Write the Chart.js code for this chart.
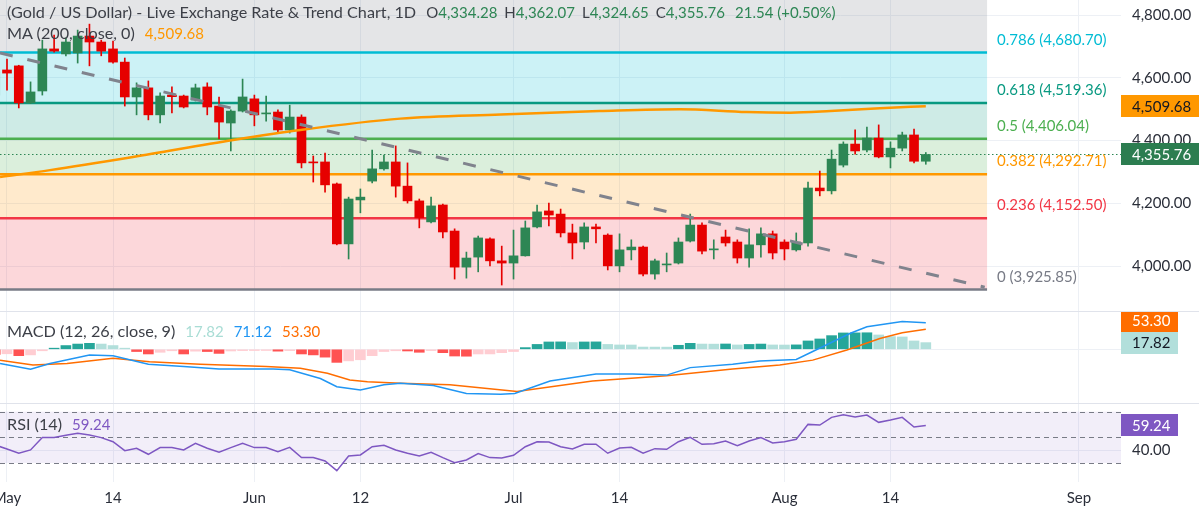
<!DOCTYPE html>
<html><head><meta charset="utf-8">
<script src="https://cdn.jsdelivr.net/npm/chart.js@4.4.1/dist/chart.umd.min.js"></script>
<style>
html,body{margin:0;padding:0;background:#fff;overflow:hidden;}
#wrap{position:relative;width:1199px;height:514px;font-family:Lato,"Open Sans",sans-serif;}
canvas{position:absolute;left:0;}
.sep{position:absolute;left:0;width:1199px;height:1px;background:#e0e3eb;}
.leg{position:absolute;left:7px;font-size:16.2px;color:#3c3f47;white-space:pre;line-height:18px;}
.leg .v{font-size:15px;}
.gap{display:inline-block;width:10px;}
.g7{display:inline-block;width:7px;}
</style></head><body>
<div id="wrap">
<canvas id="cMain" width="1199" height="311" style="top:0;width:1199px;height:311px"></canvas>
<div class="sep" style="top:311px"></div>
<canvas id="cMacd" width="1199" height="91" style="top:312px;width:1199px;height:91px"></canvas>
<div class="sep" style="top:403px"></div>
<canvas id="cRsi" width="1199" height="110" style="top:404px;width:1199px;height:110px"></canvas>
<div class="leg" id="l1" style="top:3px"></div>
<div class="leg" id="l2" style="top:24px"></div>
<div class="leg" id="l3" style="top:322px"></div>
<div class="leg" id="l4" style="top:415px"></div>
</div>
<script>
// ---------------- DATA ----------------
const title = '(Gold / US Dollar) - Live Exchange Rate & Trend Chart, 1D';
const firstIndex = -1; // candle index of first entry (index 0 = May 1)
const opens = [4545,4625,4638,4520,4558,4692,4676,4679,4733,4714,4692,4650,4539,4568,4482,4545,4542,4529,4571,4510,
 4456,4494,4533,4485,4491,4434,4475,4332,4332,4262,4071,4211,4271,4310,4332,4255,4208,4141,4195,4112,
 3997,4029,4087,4017,4010,4033,4125,4176,4166,4106,4077,4125,4099,4001,4052,4061,3975,4004,4010,4080,
 4131,4052,4093,4077,4026,4068,4103,4077,4052,4074,4249,4240,4322,4389,4370,4408,4348,4376,4418,4334.28];
const highs = [4631,4660,4640,4587,4720,4736,4727,4752,4771,4720,4717,4663,4584,4590,4552,4571,4545,4580,4584,4539,
 4498,4596,4545,4542,4498,4513,4482,4351,4360,4265,4220,4246,4370,4354,4383,4329,4214,4220,4198,4119,
 4045,4096,4090,4064,4115,4144,4195,4201,4182,4134,4138,4134,4103,4103,4084,4064,4023,4042,4090,4166,
 4138,4084,4115,4084,4119,4122,4112,4084,4106,4268,4303,4370,4396,4434,4443,4450,4396,4427,4437,4362.07];
const lows = [4529,4561,4504,4518,4545,4682,4670,4647,4638,4670,4647,4510,4482,4466,4456,4488,4504,4526,4482,4405,
 4367,4491,4447,4462,4427,4424,4313,4268,4236,4068,4023,4170,4265,4306,4220,4201,4122,4138,4090,3959,
 3962,3982,4001,3940,3959,4032,4122,4128,4093,4023,4055,4074,3988,3982,4020,3969,3959,3982,4007,4077,
 4039,4023,4064,4010,3997,4029,4023,4020,4048,4064,4224,4230,4316,4357,4364,4345,4313,4367,4329,4324.65];
const closes = [4619,4615,4520,4555,4692,4685,4714,4733,4714,4685,4650,4539,4568,4482,4542,4540,4507,4568,4507,4459,
 4494,4539,4482,4488,4434,4475,4329,4329,4259,4071,4214,4220,4310,4332,4255,4208,4154,4192,4109,3997,
 4026,4090,4017,4010,4033,4122,4173,4163,4106,4074,4125,4119,4001,4052,4061,3975,4017,4007,4077,4131,
 4048,4055,4074,4026,4068,4103,4042,4055,4077,4249,4240,4341,4389,4367,4408,4348,4376,4418,4334.22,4355.76];

const maIndex = [-0.59,3.65,10.7,19.2,24.9,33.4,41.9,50.3,57.1,62.8,66.5,69.9,74.1,78];
const maValue = [4284,4306,4348,4402,4434,4470,4483,4494,4500,4491,4489,4494,4503,4509.68];

const trendIndex = [-0.59, 83.0];
const trendValue = [4679, 3933];

const fibLow = 3925.85, fibHigh = 4886.222;
const fibRatios = [0,0.236,0.382,0.5,0.618,0.786,1];
const fibEndIndex = 83.2;

const histValue = [-14,-12,-17,-15,-4,3,10,14,16,14,10,3,-6,-12.5,-8,-4,-12.5,-5,-6,-11,
 -4.5,-3.5,-3.3,-3.2,-5,-3.5,-12.5,-15,-21,-35,-31,-28,-17,-6,-4,-4.5,-8,-3.5,-9,-18,
 -18.5,-12.5,-12.4,-9,-6,4.5,13,19.6,19.8,18,19.6,19.8,13,11.6,11.5,6,5.9,5.8,10.7,16,
 14,13.8,14.2,11.6,13,14,11.6,11.4,11.8,22.3,27.6,36.5,43.7,43.9,44.2,38.3,33.9,33,22.3,17.82];
const macdIndex = [-0.59,2,3.65,7,9,12,15,18,22.6,24,26.6,28,30,32,33.4,36.2,39,41.9,43.1,46.1,50,53.1,56,58,61.6,63.9,67,68.4,71.6,73,76,78];
const macdValue = [-38,-53,-38,-15,-17,-40,-46,-53,-53,-55,-78,-100,-109,-95,-91,-97,-118,-120,-118,-85,-66,-66,-69,-49,-40,-31,-27,-6,43,60,74,71.12];
const signalIndex = [-0.59,2.2,5.1,9,12.1,16.4,22,24.9,27.2,29.1,30.6,33.4,37.6,43.3,49.7,56,61.6,65.6,68.4,71.3,74.1,76,78];
const signalValue = [-29,-42,-38,-24,-33,-40,-46,-51,-64,-82,-87,-91,-95,-113,-85,-71,-53,-42,-29,-2,29,44,53.30];

const rsiValue = [44,40.9,37.6,40.2,49.8,49.8,51.6,53.1,51.8,49.8,46.6,39.6,41.5,36.8,42.0,42.0,40.2,45.4,41.5,38.4,
 42.0,45.4,42.0,42.0,38.9,42.2,34.2,34.2,31.6,24.0,35.5,36.3,42.7,43.8,40.2,37.6,35.5,38.4,34.2,30.3,
 32.4,37.3,34.2,33.9,36.0,42.7,46.6,46.4,42.7,40.9,44.6,44.6,37.6,41.7,42.2,37.6,41.2,40.7,46.6,50.0,
 44.6,45.1,47.2,43.5,47.2,49.8,45.6,46.6,48.5,60.1,59.6,65.6,67.7,65.9,67.4,61.7,63.5,65.6,58.1,59.24];
const rsiLevels = [70,50,30];

const tickIndex = [0,9,21,30,43,52,66,75,91];
const tickLabels = ['May','14','Jun','12','Jul','14','Aug','14','Sep'];
const priceTicks = [4000,4200,4400,4600,4800];
const macdTicks = [0];
const rsiTicks = [40];

// ---------------- STYLE / LAYOUT ----------------
const FONT = 'Lato, "Open Sans", sans-serif';
const UP = '#2d8654', DOWN = '#e60000', GRID = '#edf0f5', TXT = '#2a2e39';
const fibColors = ['#787b86','#f23645','#ff9800','#4caf50','#089981','#00bcd4','#787b86'];
const xMin = -0.594, xMax = 94.57;
const AXW = 78;
const candleIndex = opens.map((_, k) => k + firstIndex);
const last = closes.length - 1;
const fmt = v => v.toLocaleString('en-US', {minimumFractionDigits: 2, maximumFractionDigits: 2});
function rgba(hex, a) {
  const n = parseInt(hex.slice(1), 16);
  return `rgba(${n >> 16},${(n >> 8) & 255},${n & 255},${a})`;
}
Chart.defaults.font.family = FONT;
Chart.defaults.font.size = 15;

function xScale(show) {
  return {
    type: 'linear', min: xMin, max: xMax, offset: false, bounds: 'data',
    grid: {color: GRID, drawTicks: false, offset: false},
    border: {display: false},
    ticks: {display: show, color: TXT, font: {size: 15}, padding: 7, maxRotation: 0, autoSkip: false,
      callback: v => { const k = tickIndex.indexOf(v); return k >= 0 ? tickLabels[k] : ''; }},
    afterBuildTicks: s => { s.ticks = tickIndex.map(v => ({value: v})); },
    afterFit: s => { s.height = show ? 32 : 0; s.paddingLeft = 0; s.paddingRight = 0; }
  };
}
function yScale(min, max, ticks) {
  return {
    position: 'right', min, max, bounds: 'data',
    grid: {color: GRID, drawTicks: false},
    border: {display: false},
    ticks: {color: TXT, font: {size: 15}, padding: 11, callback: v => fmt(v)},
    afterBuildTicks: s => { s.ticks = ticks.map(v => ({value: v})); },
    afterFit: s => { s.width = AXW; s.paddingTop = 0; s.paddingBottom = 0; }
  };
}
function box(ctx, chart, yc, w, bg, fg, text) {
  const a = chart.chartArea, h = 22;
  ctx.fillStyle = bg;
  ctx.fillRect(a.right, Math.round(yc - h / 2), w, h);
  ctx.fillStyle = fg;
  ctx.font = '15px ' + FONT;
  ctx.textAlign = 'left'; ctx.textBaseline = 'middle';
  ctx.fillText(text, a.right + 11, yc + 0.5);
}
const baseOpts = {
  responsive: false, animation: false, devicePixelRatio: 1, events: [],
  layout: {padding: 0},
  plugins: {legend: {display: false}, tooltip: {enabled: false}}
};

// ---------------- MAIN PANE ----------------
const mainDeco = {
  id: 'mainDeco',
  beforeDatasetsDraw(chart) {
    const {ctx, chartArea: a, scales: {x, y}} = chart;
    const xe = x.getPixelForValue(fibEndIndex);
    const lv = fibRatios.map(r => fibLow + r * (fibHigh - fibLow));
    ctx.save();
    ctx.beginPath(); ctx.rect(a.left, a.top, a.right - a.left, a.bottom - a.top); ctx.clip();
    for (let k = 0; k < lv.length - 1; k++) {
      const y1 = y.getPixelForValue(lv[k]), y2 = y.getPixelForValue(lv[k + 1]);
      ctx.fillStyle = rgba(fibColors[k + 1], 0.2);
      ctx.fillRect(a.left, y2, xe - a.left, y1 - y2);
    }
    ctx.lineWidth = 2.5;
    lv.forEach((v, k) => {
      const yy = y.getPixelForValue(v);
      ctx.strokeStyle = fibColors[k];
      ctx.beginPath(); ctx.moveTo(a.left, yy); ctx.lineTo(xe, yy); ctx.stroke();
    });
    const yc = Math.round(y.getPixelForValue(closes[last])) + 0.5;
    ctx.strokeStyle = UP; ctx.lineWidth = 1; ctx.setLineDash([1.5, 2.5]);
    ctx.beginPath(); ctx.moveTo(a.left, yc); ctx.lineTo(a.right, yc); ctx.stroke();
    ctx.restore();
  },
  afterDraw(chart) {
    const {ctx, chartArea: a, scales: {x, y}} = chart;
    const xe = x.getPixelForValue(fibEndIndex);
    ctx.save();
    ctx.font = '15px ' + FONT; ctx.textAlign = 'left'; ctx.textBaseline = 'middle';
    fibRatios.forEach((r, k) => {
      const v = fibLow + r * (fibHigh - fibLow);
      const yy = y.getPixelForValue(v) - 12.7;
      if (yy < a.top) return;
      ctx.fillStyle = fibColors[k];
      ctx.fillText(`${r} (${fmt(v)})`, xe + 10, yy);
    });
    box(ctx, chart, y.getPixelForValue(maValue[maValue.length - 1]), chart.width - a.right, '#ff9800', '#131722', fmt(maValue[maValue.length - 1]));
    box(ctx, chart, y.getPixelForValue(closes[last]), chart.width - a.right, '#2c7d50', '#ffffff', fmt(closes[last]));
    ctx.restore();
  }
};
const candleColor = c => closes[c.dataIndex] >= opens[c.dataIndex] ? UP : DOWN;
new Chart(document.getElementById('cMain'), {
  type: 'bar',
  data: {datasets: [
    {type: 'line', data: trendIndex.map((x, k) => ({x, y: trendValue[k]})), borderColor: '#80838d', borderWidth: 3,
      borderDash: [13, 15], pointRadius: 0, order: 0},
    {type: 'line', data: maIndex.map((x, k) => ({x, y: maValue[k]})), borderColor: '#ff9800', borderWidth: 2.5,
      pointRadius: 0, cubicInterpolationMode: 'monotone', order: 1},
    {type: 'bar', data: candleIndex.map((x, k) => ({x, y: [opens[k], closes[k]]})), backgroundColor: candleColor,
      barThickness: 9, grouped: false, minBarLength: 1, borderWidth: 0, order: 2},
    {type: 'bar', data: candleIndex.map((x, k) => ({x, y: [lows[k], highs[k]]})), backgroundColor: candleColor,
      barThickness: 1, grouped: false, borderWidth: 0, order: 3}
  ]},
  options: Object.assign({}, baseOpts, {scales: {x: xScale(false), y: yScale(3857.3, 4847.8, priceTicks)}}),
  plugins: [mainDeco]
});

// ---------------- MACD PANE ----------------
const histColor = c => {
  const k = c.dataIndex, v = histValue[k], p = k > 0 ? histValue[k - 1] : v;
  if (v >= 0) return v >= p ? '#26a69a' : '#b2dfdb';
  return v <= p ? '#ff5252' : '#ffcdd2';
};
const macdDeco = {
  id: 'macdDeco',
  afterDraw(chart) {
    const {ctx, scales: {y}} = chart;
    const w = 57, h = 22;
    const hv = histValue[last], sv = signalValue[signalValue.length - 1];
    const yh = y.getPixelForValue(hv);
    let ys = y.getPixelForValue(sv);
    if (Math.abs(ys - yh) < h) ys = yh - h;
    ctx.save();
    box(ctx, chart, ys, w, '#ff6d00', '#ffffff', fmt(sv));
    box(ctx, chart, yh, w, '#b2dfdb', '#131722', fmt(hv));
    ctx.restore();
  }
};
new Chart(document.getElementById('cMacd'), {
  type: 'bar',
  data: {datasets: [
    {type: 'line', data: macdIndex.map((x, k) => ({x, y: macdValue[k]})), borderColor: '#2196f3', borderWidth: 1.5, pointRadius: 0, order: 0},
    {type: 'line', data: signalIndex.map((x, k) => ({x, y: signalValue[k]})), borderColor: '#ff6d00', borderWidth: 1.5, pointRadius: 0, order: 1},
    {type: 'bar', data: candleIndex.map((x, k) => ({x, y: histValue[k]})), backgroundColor: histColor,
      barThickness: 10, grouped: false, borderWidth: 0, order: 2}
  ]},
  options: Object.assign({}, baseOpts, {scales: {x: xScale(false), y: yScale(-143.6, 99.7, macdTicks)}}),
  plugins: [macdDeco]
});

// ---------------- RSI PANE ----------------
const rsiDeco = {
  id: 'rsiDeco',
  beforeDatasetsDraw(chart) {
    const {ctx, chartArea: a, scales: {y}} = chart;
    ctx.save();
    const yt = y.getPixelForValue(rsiLevels[0]), yb = y.getPixelForValue(rsiLevels[2]);
    ctx.fillStyle = rgba('#7e57c2', 0.1);
    ctx.fillRect(a.left, yt, a.right - a.left, yb - yt);
    ctx.strokeStyle = '#787b86'; ctx.lineWidth = 1; ctx.setLineDash([5, 4]);
    rsiLevels.forEach(v => {
      const yy = Math.round(y.getPixelForValue(v)) + 0.5;
      ctx.beginPath(); ctx.moveTo(a.left, yy); ctx.lineTo(a.right, yy); ctx.stroke();
    });
    ctx.restore();
  },
  afterDraw(chart) {
    const {ctx, scales: {y}} = chart;
    ctx.save();
    box(ctx, chart, y.getPixelForValue(rsiValue[last]), 57, '#7e57c2', '#ffffff', fmt(rsiValue[last]));
    ctx.restore();
  }
};
new Chart(document.getElementById('cRsi'), {
  type: 'line',
  data: {datasets: [
    {data: candleIndex.map((x, k) => ({x, y: rsiValue[k]})), borderColor: '#7e57c2', borderWidth: 1.5, pointRadius: 0}
  ]},
  options: Object.assign({}, baseOpts, {scales: {x: xScale(true), y: yScale(15.19, 76.0, rsiTicks)}}),
  plugins: [rsiDeco]
});

// ---------------- LEGENDS ----------------
const chg = closes[last] - closes[last - 1];
const val = (t, c) => `<span class="v" style="color:${c}">${t}</span>`;
const lab = t => `<span class="v">${t}</span>`;
document.getElementById('l1').innerHTML = title.replace('&', '&amp;') + '<span class="gap"></span>' +
  lab('O') + val(fmt(opens[last]), UP) + '<span class="g7"></span>' +
  lab('H') + val(fmt(highs[last]), UP) + '<span class="g7"></span>' +
  lab('L') + val(fmt(lows[last]), UP) + '<span class="g7"></span>' +
  lab('C') + val(fmt(closes[last]), UP) + '<span class="gap"></span>' +
  val(fmt(chg) + ' (+' + (chg / closes[last - 1] * 100).toFixed(2) + '%)', UP);
document.getElementById('l2').innerHTML = 'MA (200, close, 0)<span class="gap"></span>' + val(fmt(maValue[maValue.length - 1]), '#ff9800');
document.getElementById('l3').innerHTML = 'MACD (12, 26, close, 9)<span class="gap"></span>' + val(fmt(histValue[last]), '#a9ddd5') +
  '<span class="gap"></span>' + val(fmt(macdValue[macdValue.length - 1]), '#2196f3') +
  '<span class="gap"></span>' + val(fmt(signalValue[signalValue.length - 1]), '#ff6d00');
document.getElementById('l4').innerHTML = 'RSI (14)<span class="gap"></span>' + val(fmt(rsiValue[last]), '#7e57c2');
</script>
</body></html>
